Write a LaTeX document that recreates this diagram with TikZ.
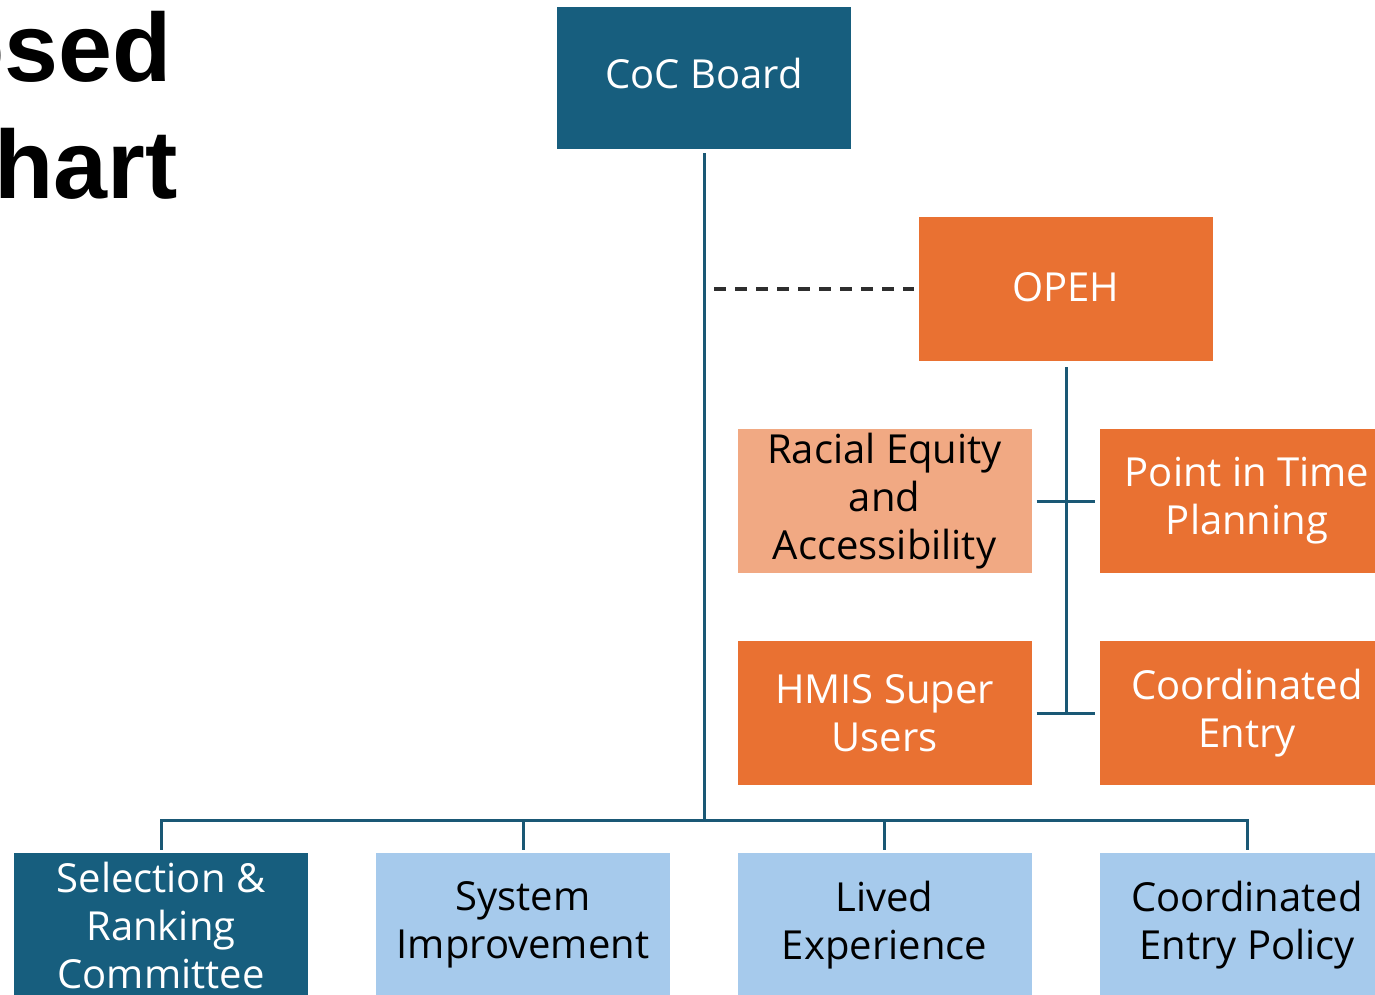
\documentclass[tikz,border=0pt]{standalone}
\usepackage{fontspec}
\setmainfont{Open Sans}
\newfontfamily\titlefont{Liberation Sans}
\definecolor{teal}{HTML}{175E7E}
\definecolor{orng}{HTML}{E97132}
\definecolor{lorng}{HTML}{F1A983}
\definecolor{lblue}{HTML}{A6CAEC}
\definecolor{lineclr}{HTML}{1A5875}
\definecolor{dashclr}{HTML}{2E2E2E}
\begin{document}
\begin{tikzpicture}[x=1pt,y=-1pt,
  box/.style={minimum width=294pt,minimum height=144pt,inner sep=0pt,align=center,
    font=\fontsize{40}{48}\selectfont},
  darkbox/.style={box,fill=teal,text=white},
  orbox/.style={box,fill=orng,text=white},
  lorbox/.style={box,fill=lorng,text=black},
  bluebox/.style={box,fill=lblue,text=black},
  conn/.style={draw=lineclr,line width=3pt},
  dashconn/.style={draw=dashclr,line width=3.4pt,dash pattern=on 12pt off 9pt},
  titletext/.style={inner sep=0pt,anchor=base east,font=\titlefont\bfseries\fontsize{97}{110}\selectfont}]
\useasboundingbox[fill=white] (0,0) rectangle (1375,995);
% title fragments
\node[titletext] (t1) at (172,82) {osed};
\node[titletext] (t2) at (178,198) {hart};
% boxes
\node[darkbox,minimum height=142pt,text depth=10pt] (coc) at (704,78) {CoC Board};
\node[orbox,text depth=4pt] (opeh) at (1066,289) {OPEH};
\node[lorbox] (race) at (884.5,501) {Racial Equity\\and\\Accessibility};
\node[orbox] (pit) at (1247,501) {Point in Time\\Planning};
\node[orbox] (hmis) at (884.5,713) {HMIS Super\\Users};
\node[orbox] (ce) at (1247,713) {Coordinated\\Entry};
\node[darkbox] (sel) at (161,925) {Selection \&\\Ranking\\Committee};
\node[bluebox] (sys) at (523,925) {System\\Improvement};
\node[bluebox] (lived) at (884.5,925) {Lived\\Experience};
\node[bluebox] (cep) at (1247,925) {Coordinated\\Entry Policy};
% connectors
\coordinate (bus) at (0,820);
\draw[conn] ([yshift=-4pt]coc.south) -- (coc.south |- bus);
\draw[conn] ([yshift=3pt]sel.north) -- (sel.north |- bus) -- (cep.north |- bus) -- ([yshift=3pt]cep.north);
\draw[conn] (sys.north |- bus) -- ([yshift=3pt]sys.north);
\draw[conn] (lived.north |- bus) -- ([yshift=3pt]lived.north);
\draw[dashconn] ([xshift=10pt]coc.south |- opeh.west) -- ([xshift=-5pt]opeh.west);
\draw[conn] ([yshift=-6pt]opeh.south) -- (opeh.south |- hmis.east);
\draw[conn] ([xshift=5pt]race.east) -- ([xshift=-5pt]pit.west);
\draw[conn] ([xshift=5pt]hmis.east) -- ([xshift=-5pt]ce.west);
\end{tikzpicture}
\end{document}
